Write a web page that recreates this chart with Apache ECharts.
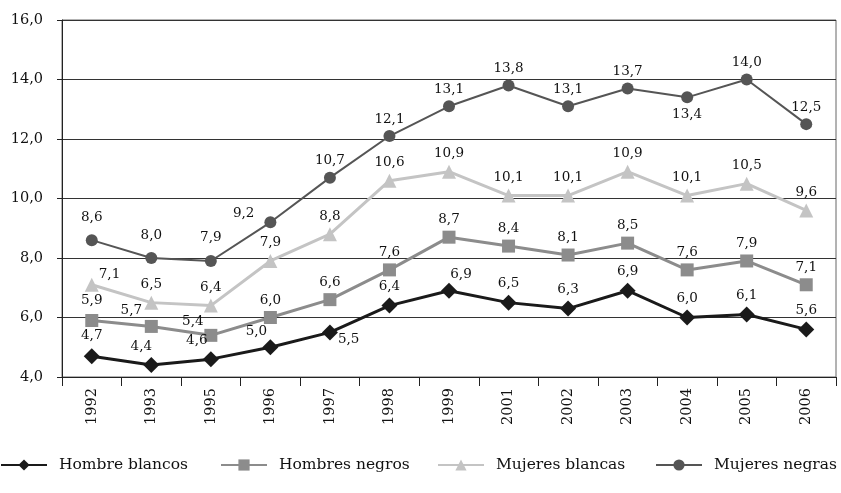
<!DOCTYPE html>
<html>
<head>
<meta charset="utf-8">
<script src="https://cdn.jsdelivr.net/npm/echarts@6/dist/echarts.min.js"></script>
<style>
  html, body { margin: 0; padding: 0; background: #fff; }
  #chart { width: 841px; height: 493px; }
</style>
</head>
<body>
<div id="chart"></div>
<script>
const years = ['1992', '1993', '1995', '1996', '1997', '1998', '1999', '2001', '2002', '2003', '2004', '2005', '2006'];

const hombreBlancos  = [4.7, 4.4, 4.6, 5.0, 5.5, 6.4, 6.9, 6.5, 6.3, 6.9, 6.0, 6.1, 5.6];
const hombresNegros  = [5.9, 5.7, 5.4, 6.0, 6.6, 7.6, 8.7, 8.4, 8.1, 8.5, 7.6, 7.9, 7.1];
const mujeresBlancas = [7.1, 6.5, 6.4, 7.9, 8.8, 10.6, 10.9, 10.1, 10.1, 10.9, 10.1, 10.5, 9.6];
const mujeresNegras  = [8.6, 8.0, 7.9, 9.2, 10.7, 12.1, 13.1, 13.8, 13.1, 13.7, 13.4, 14.0, 12.5];

const seriesNames = ['Hombre blancos', 'Hombres negros', 'Mujeres blancas', 'Mujeres negras'];

const yMin = 4, yMax = 16, yStep = 2;

const FONT = '"DejaVu Serif", "Liberation Serif", serif';
const fmt = v => v.toFixed(1).replace('.', ',');

// Per-point label placement tweaks (index -> label options)
function buildData(values, tweaks) {
  return values.map((v, i) => {
    const item = { value: v };
    if (tweaks[i]) item.label = tweaks[i];
    return item;
  });
}

function makeSeries(name, values, color, symbol, size, width, tweaks) {
  return {
    name: name,
    type: 'line',
    data: buildData(values, tweaks),
    symbol: symbol,
    symbolSize: size,
    lineStyle: { color: color, width: width },
    itemStyle: { color: color },
    label: {
      show: true,
      position: 'top',
      distance: 4,
      color: '#111',
      fontFamily: FONT,
      fontSize: 13.5,
      formatter: p => fmt(p.value)
    },
    emphasis: { disabled: true },
    animation: false
  };
}

// One legend block per series so each entry sits at its own spot along the bottom
const legendLefts = [0, 220, 437, 655];
const legends = seriesNames.map((n, i) => ({
  data: [n],
  left: legendLefts[i],
  bottom: 20,
  padding: 0,
  itemWidth: 46,
  itemHeight: 14,
  textStyle: { fontFamily: FONT, fontSize: 15.5, color: '#111', padding: [0, 0, 0, 7] }
}));

const chart = echarts.init(document.getElementById('chart'), null, { renderer: 'canvas' });

chart.setOption({
  backgroundColor: '#fff',
  animation: false,
  grid: { left: 62, right: 5, top: 20, bottom: 116, show: true, borderColor: '#666', borderWidth: 1 },
  legend: legends,
  xAxis: {
    type: 'category',
    data: years,
    boundaryGap: true,
    axisLine: { lineStyle: { color: '#222', width: 1 } },
    axisTick: { show: true, length: 9, lineStyle: { color: '#222' } },
    axisLabel: { rotate: 90, color: '#111', fontFamily: FONT, fontSize: 14.5, margin: 11 },
    splitLine: { show: false }
  },
  yAxis: {
    type: 'value',
    min: yMin,
    max: yMax,
    interval: yStep,
    axisLine: { show: true, lineStyle: { color: '#222', width: 1 } },
    axisTick: { show: true, length: 5, lineStyle: { color: '#222' } },
    axisLabel: { color: '#111', fontFamily: FONT, fontSize: 14.5, margin: 19, formatter: v => fmt(v) },
    splitLine: { show: true, lineStyle: { color: '#333', width: 1 } }
  },
  series: [
    makeSeries(seriesNames[0], hombreBlancos, '#1a1a1a', 'diamond', 16, 3, {
      0: { distance: 6 },
      1: { offset: [-10, 0] },
      2: { offset: [-14, 0] },
      3: { offset: [-14, 3] },
      4: { position: 'right', offset: [-4, 7] },
      6: { offset: [12, 3] }
    }),
    makeSeries(seriesNames[1], hombresNegros, '#8c8c8c', 'rect', 13, 3, {
      0: { distance: 6 },
      1: { offset: [-20, 2] },
      2: { offset: [-18, 4] }
    }),
    makeSeries(seriesNames[2], mujeresBlancas, '#c4c4c4', 'triangle', 14, 3, {
      0: { position: 'right', offset: [-4, -10] }
    }),
    makeSeries(seriesNames[3], mujeresNegras, '#555555', 'circle', 12, 2, {
      0: { distance: 10 },
      1: { distance: 10 },
      2: { distance: 10 },
      3: { position: 'left', distance: 10, offset: [0, -9] },
      10: { position: 'bottom', distance: 4 }
    })
  ]
});
</script>
</body>
</html>
